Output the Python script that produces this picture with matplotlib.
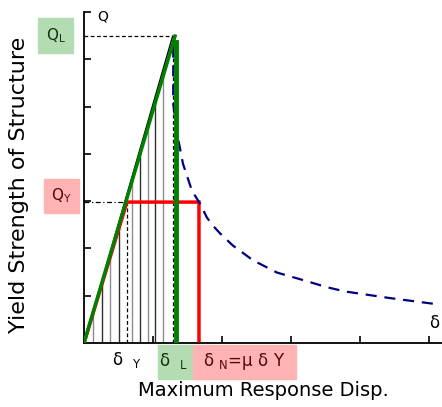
import matplotlib.pyplot as plt
import numpy as np

# values (tick spacing = 1 unit)
q_l = 6.49          # peak strength
d_l_peak = 1.285    # displacement at peak (dashed)
d_l = 1.33          # green vertical drop
q_y = 2.98
d_y = 0.623
d_n = 1.667

hatch_x = [0.13, 0.26, 0.38, 0.51, 0.70, 0.81, 0.93, 1.03, 1.15]

curve_x = [1.294, 1.294, 1.294, 1.362, 1.435, 1.565, 1.681, 1.783, 1.870,
           1.971, 2.159, 2.449, 2.797, 3.130, 3.522, 3.783, 4.435, 5.116]
curve_y = [6.27, 5.89, 5.05, 4.34, 3.79, 3.22, 2.95, 2.65, 2.48,
           2.32, 2.06, 1.75, 1.49, 1.35, 1.18, 1.09, 0.95, 0.82]

W, H = 442, 407
fig = plt.figure(figsize=(W / 100, H / 100), dpi=100)
ax = fig.add_axes([84 / W, 1 - 343 / H, 358 / W, 331 / H])
ax.set_xlim(0, 5.19)
ax.set_ylim(0, 7)

def px(x, y):
    return x / W, 1 - y / H

# hatch lines under the diagonal
slope = q_l / 1.30
for i, x in enumerate(hatch_x):
    c = '#8c8c8c' if i % 2 == 0 else '#303030'
    ax.plot([x, x], [0, slope * x], color=c, lw=1.0, zorder=1)

# guide lines
ax.plot([0, d_l_peak], [q_l, q_l], color='black', lw=0.9, ls=(0, (3, 2)), zorder=2)
ax.plot([d_l_peak, d_l_peak], [0, q_l], color='black', lw=0.9, ls=(0, (3, 2)), zorder=2)
ax.plot([0, d_y], [q_y, q_y], color='black', lw=0.9, ls=(0, (4, 2, 1, 2)), zorder=2)
ax.plot([d_y, d_y], [0, q_y], color='black', lw=0.9, ls=(0, (3, 2)), zorder=2)
ax.plot([0, d_l_peak], [0, q_l], color='black', lw=1.0, zorder=2)

# elastic-perfectly-plastic (red)
ax.plot([0, d_y, d_n, d_n], [0, q_y, q_y, 0.05], color='red', lw=2.5, zorder=3,
        solid_joinstyle='miter')

# strength demand curve
ax.plot(curve_x, curve_y, color='#000080', lw=1.6, ls=(0, (5, 3.5)), zorder=3)

# elastic (green)
ax.plot([0, 1.32], [0, q_l], color='green', lw=2.5, zorder=4)
ax.plot([d_l, d_l], [0, 6.37], color='green', lw=3.5, zorder=4)

# axes styling
for s in ['top', 'right']:
    ax.spines[s].set_visible(False)
ax.spines['left'].set_linewidth(1.3)
ax.spines['bottom'].set_linewidth(1.3)
ax.set_xticks([1, 2, 3, 4, 5])
ax.set_yticks([1, 2, 3, 4, 5, 6, 7])
ax.tick_params(direction='in', length=5, width=1.2, labelbottom=False, labelleft=False)

# label boxes
green_box = '#b3dcb3'
pink_box = '#ffb3b3'

def box(x0, y0, x1, y1, color):
    fig.patches.append(plt.Rectangle(px(x0, y1), (x1 - x0) / W, (y1 - y0) / H,
                                     transform=fig.transFigure, color=color, zorder=0))

box(38, 18, 73, 53, green_box)
box(44, 179, 79, 213, pink_box)
box(158, 345, 193, 379, green_box)
box(193, 345, 296, 379, pink_box)

fig.text(*px(103, 17), 'Q', fontsize=10, ha='center', va='center')
fig.text(*px(56, 36), r'Q$_\mathregular{L}$', fontsize=11, ha='center', va='center',
         color='#143214')
fig.text(*px(61, 196), r'Q$_\mathregular{Y}$', fontsize=11, ha='center', va='center',
         color='#500a0a')
fig.text(*px(127, 360), r'δ  $_\mathregular{Y}$', fontsize=12, ha='center', va='center')
fig.text(*px(174, 361), r'δ  $_\mathregular{L}$', fontsize=12, ha='center', va='center',
         color='#143214')
fig.text(*px(244, 361), r'δ $_\mathregular{N}$=μ δ Y', fontsize=12, ha='center',
         va='center', color='#500a0a')
fig.text(*px(434, 323), 'δ', fontsize=12, ha='center', va='center')

fig.text(*px(263, 390), 'Maximum Response Disp.', fontsize=14, ha='center',
         va='center')
fig.text(*px(19, 185), 'Yield Strength of Structure', fontsize=16, ha='center',
         va='center', rotation=90)

fig.savefig('out.png', dpi=100)
